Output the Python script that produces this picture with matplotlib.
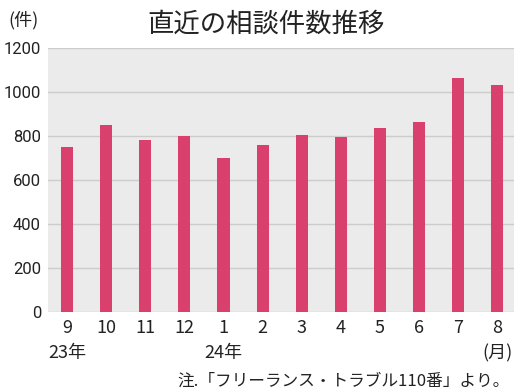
import matplotlib.pyplot as plt

plt.rcParams['font.family'] = ['Noto Sans CJK JP', 'DejaVu Sans']

months = ['9', '10', '11', '12', '1', '2', '3', '4', '5', '6', '7', '8']
counts = [750, 850, 782, 800, 700, 759, 805, 795, 836, 864, 1063, 1032]
year_labels = {0: '23年', 4: '24年', 11: '(月)'}
yticks = [0, 200, 400, 600, 800, 1000, 1200]

BAR_COLOR = '#d9406e'
BG_COLOR = '#ebebeb'
TEXT = '#222222'

fig = plt.figure(figsize=(5.28, 3.92), dpi=100)
ax = fig.add_axes([48 / 528, 1 - 312 / 392, (514 - 48) / 528, (312 - 48) / 392])
ax.set_facecolor(BG_COLOR)

x = range(len(months))
ax.bar(x, counts, width=0.31, color=BAR_COLOR, zorder=3)

ax.set_xlim(-0.49, 11.43)
ax.set_ylim(0, 1200)
ax.set_yticks(yticks)
ax.set_yticklabels([str(v) for v in yticks], fontsize=12, color=TEXT,
                   family='Roboto')
ax.set_xticks(list(x))
ax.set_xticklabels(months, fontsize=13, color=TEXT)
ax.tick_params(length=0)
ax.tick_params(axis='y', pad=5)
ax.tick_params(axis='x', pad=5)
ax.grid(axis='y', color='#cccccc', linewidth=1, zorder=0)
for s in ax.spines.values():
    s.set_visible(False)

for i, lab in year_labels.items():
    ax.text(i, -0.155, lab, transform=ax.get_xaxis_transform(),
            ha='center', va='center', fontsize=13, color=TEXT)

fig.text(266 / 528, 1 - 24 / 392, '直近の相談件数推移', ha='center', va='center',
         fontsize=19, color=TEXT)
fig.text(24 / 528, 1 - 20 / 392, '(件)', ha='center', va='center',
         fontsize=13, color=TEXT)
fig.text(510 / 528, 1 - 381 / 392, '注.「フリーランス・トラブル110番」より。',
         ha='right', va='center', fontsize=12, color=TEXT)

fig.savefig('out.png', dpi=100)
